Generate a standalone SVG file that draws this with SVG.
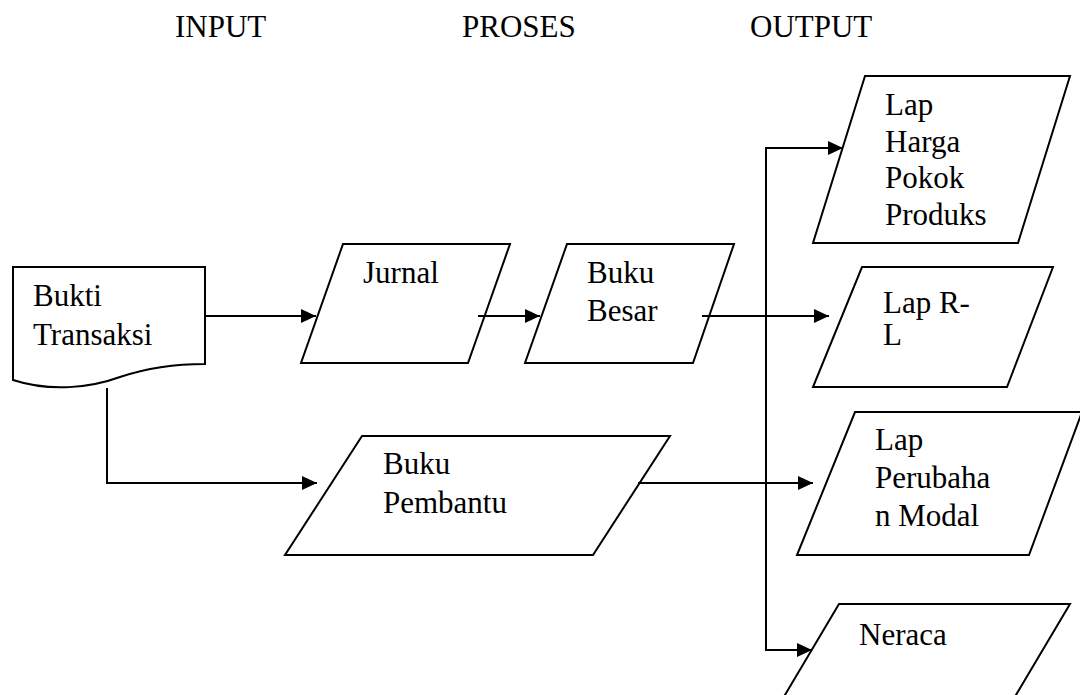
<svg xmlns="http://www.w3.org/2000/svg" width="1080" height="695" viewBox="0 0 1080 695">
  <style>
    .shape { fill: #ffffff; stroke: #000000; stroke-width: 2; stroke-linejoin: miter; }
    .label { font-family: Liberation Serif, DejaVu Serif, Times New Roman, serif; font-size: 31px; fill: #000000; }
    .wire { fill: none; stroke: #000000; stroke-width: 2; }
  </style>
  <defs>
    <marker id="arrow" markerWidth="16" markerHeight="14" refX="15" refY="7" orient="auto" markerUnits="userSpaceOnUse">
      <path d="M0,0 L15,7 L0,14 Z" fill="#000000"/>
    </marker>
  </defs>
  <rect width="1080" height="695" fill="#ffffff"/>

  <!-- column headings -->
  <g id="headings">
    <text class="label" x="175" y="37">INPUT</text>
    <text class="label" x="462" y="37">PROSES</text>
    <text class="label" x="750" y="37">OUTPUT</text>
  </g>

  <!-- source document -->
  <g id="bukti-transaksi">
    <path class="shape" d="M13,267 L205,267 L205,364 C175,364 150,367 120,377 C90,388 50,392 13,380 Z"/>
    <text class="label" x="33" y="306">Bukti</text>
    <text class="label" x="33" y="345">Transaksi</text>
  </g>

  <!-- process records -->
  <g id="jurnal">
    <polygon class="shape" points="343,244 510,244 468,363 301,363"/>
    <text class="label" x="363" y="283">Jurnal</text>
  </g>
  <g id="buku-besar">
    <polygon class="shape" points="567,244 734,244 693,363 525,363"/>
    <text class="label" x="587" y="283">Buku</text>
    <text class="label" x="587" y="321">Besar</text>
  </g>
  <g id="buku-pembantu">
    <polygon class="shape" points="362,436 670,436 593,555 285,555"/>
    <text class="label" x="383" y="474">Buku</text>
    <text class="label" x="383" y="513">Pembantu</text>
  </g>

  <!-- reports -->
  <g id="lap-hpp">
    <polygon class="shape" points="865,76 1070,76 1018,243 813,243"/>
    <text class="label" x="885" y="115">Lap</text>
    <text class="label" x="885" y="152">Harga</text>
    <text class="label" x="885" y="188">Pokok</text>
    <text class="label" x="885" y="225">Produks</text>
  </g>
  <g id="lap-rl">
    <polygon class="shape" points="862,267 1053,267 1007,387 813,387"/>
    <text class="label" x="883" y="313">Lap R-</text>
    <text class="label" x="883" y="345">L</text>
  </g>
  <g id="lap-perubahan-modal">
    <polygon class="shape" points="855,412 1082,412 1029,555 797,555"/>
    <text class="label" x="875" y="450">Lap</text>
    <text class="label" x="875" y="488">Perubaha</text>
    <text class="label" x="875" y="526">n Modal</text>
  </g>
  <g id="neraca">
    <polygon class="shape" points="839,604 1070,604 1010,705 779,705"/>
    <text class="label" x="859" y="645">Neraca</text>
  </g>

  <!-- connectors -->
  <g id="connectors">
    <line class="wire" x1="205" y1="316" x2="316" y2="316" marker-end="url(#arrow)"/>
    <line class="wire" x1="478" y1="316" x2="540" y2="316" marker-end="url(#arrow)"/>
    <line class="wire" x1="702" y1="316" x2="829" y2="316" marker-end="url(#arrow)"/>
    <polyline class="wire" points="107,388 107,483 317,483" marker-end="url(#arrow)"/>
    <line class="wire" x1="638" y1="483" x2="813" y2="483" marker-end="url(#arrow)"/>
    <line class="wire" x1="766" y1="147" x2="766" y2="651"/>
    <line class="wire" x1="765" y1="148" x2="843" y2="148" marker-end="url(#arrow)"/>
    <line class="wire" x1="765" y1="650" x2="812" y2="650" marker-end="url(#arrow)"/>
  </g>
</svg>
